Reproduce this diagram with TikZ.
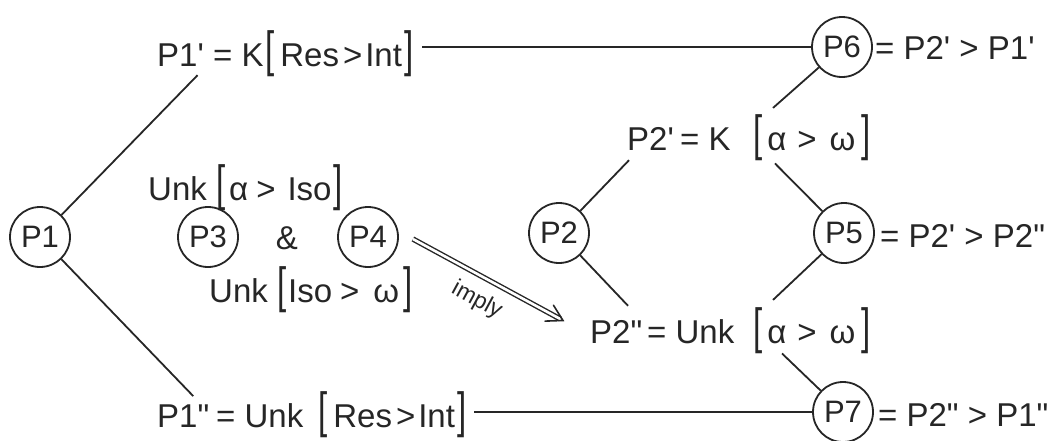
\documentclass[tikz,border=0pt]{standalone}
\usepackage{fontspec}
\usepackage{graphicx}
\newfontfamily\lf{Liberation Sans}
\newcommand{\lbr}{\scalebox{1}[1.5]{[}}
\newcommand{\rbr}{\scalebox{1}[1.5]{]}}
\definecolor{ink}{gray}{0.15}
\begin{document}
\begin{tikzpicture}[x=1pt,y=-1pt,
  txt/.style={inner sep=0pt, anchor=base west, font=\lf\fontsize{33}{36}\selectfont, text=ink},
  pc/.style={circle, draw=ink, line width=1.8pt, minimum size=60pt, inner sep=0pt, font=\lf\fontsize{31}{36}\selectfont, text=ink},
  ln/.style={draw=ink, line width=1.8pt},
  dbl/.style={draw=ink, line width=1.4pt, double=white, double distance=2.6pt},
  head/.style={draw=ink, line width=1.6pt, line join=miter, line cap=round},
]
\useasboundingbox[fill=white] (0,0) rectangle (1056,440);

% circles
\node[pc] (p1) at (40,237) {P1};
\node[pc] (p3) at (208,237) {P3};
\node[txt, anchor=center] (amp) at (287,238) {\&};
\node[pc] (p4) at (368,237) {P4};
\node[pc] (p2) at (559,233) {P2};
\node[pc] (p5) at (844,233) {P5};
\node[pc] (p6) at (842,47) {P6};
\node[pc] (p7) at (843,412) {P7};

% texts
\node[txt] (t1a) at (157,66) {P1'};
\node[txt] (t1b) at (213,66) {= K};
\node[txt] (t1c) at (265,66) {\lbr\hspace{6pt}Res\hspace{4pt}>\hspace{3pt}Int\hspace{2pt}\rbr};
\node[txt] (t1d) at (157,427) {P1"};
\node[txt] (t1e) at (216,427) {= Unk};
\node[txt] (t1f) at (318,427) {\lbr\hspace{6pt}Res\hspace{4pt}>\hspace{3pt}Int\hspace{2pt}\rbr};
\node[txt] (u1) at (148,200) {Unk \lbr\hspace{4pt}α\hspace{8pt}>\hspace{12pt}Iso\hspace{2pt}\rbr};
\node[txt] (u2) at (209,302) {Unk \lbr\hspace{2pt}Iso\hspace{8pt}>\hspace{14pt}ω\hspace{4pt}\rbr};
\node[txt] (t2a) at (627,150) {P2'};
\node[txt] (t2b) at (680,150) {= K};
\node[txt] (t2c) at (753,150) {\lbr\hspace{5pt}α\hspace{11pt}>\hspace{13pt}ω\hspace{6pt}\rbr};
\node[txt] (t2d) at (590,343) {P2"};
\node[txt] (t2e) at (647,343) {= Unk};
\node[txt] (t2f) at (753,343) {\lbr\hspace{5pt}α\hspace{11pt}>\hspace{13pt}ω\hspace{6pt}\rbr};
\node[txt] (r6) at (875,59) {= P2' > P1'};
\node[txt] (r5) at (880,247) {= P2' > P2"};
\node[txt] (r7) at (878,426) {= P2" > P1"};

% connectors
\draw[ln] (p1) -- ([xshift=17pt,yshift=-9pt]t1a.south);
\draw[ln] (p1) -- ([xshift=10pt,yshift=8pt]t1d.north);
\draw[ln, shorten <=9pt] (t1c.east |- p6.west) -- (p6.west);
\draw[ln, shorten <=8pt] (t1f.east |- p7.west) -- (p7.west);
\draw[ln] (p6) -- ([xshift=20pt,yshift=6pt]t2c.north west);
\draw[ln] ([xshift=22pt,yshift=-3pt]t2c.south west) -- (p5);
\draw[ln] ([xshift=2pt,yshift=-10pt]t2a.south west) -- (p2);
\draw[ln] (p2) -- ([xshift=38pt,yshift=14pt]t2d.north west);
\draw[ln] (p5) -- ([xshift=20pt,yshift=7pt]t2f.north west);
\draw[ln] ([xshift=29pt,yshift=0pt]t2f.south west) -- (p7);

% implication arrow
\coordinate (tip) at ([xshift=-27pt,yshift=11pt]t2d.west);
\draw[dbl, shorten >=3pt] ([xshift=14pt,yshift=-2pt]p4.east) -- node[pos=0.5, sloped, below=12pt, inner sep=0pt, font=\lf\fontsize{23}{26}\selectfont, text=ink] (imp) {imply} (tip);
\draw[head] (tip) ++(178:18) -- (tip) -- ++(238:18);
\end{tikzpicture}
\end{document}
